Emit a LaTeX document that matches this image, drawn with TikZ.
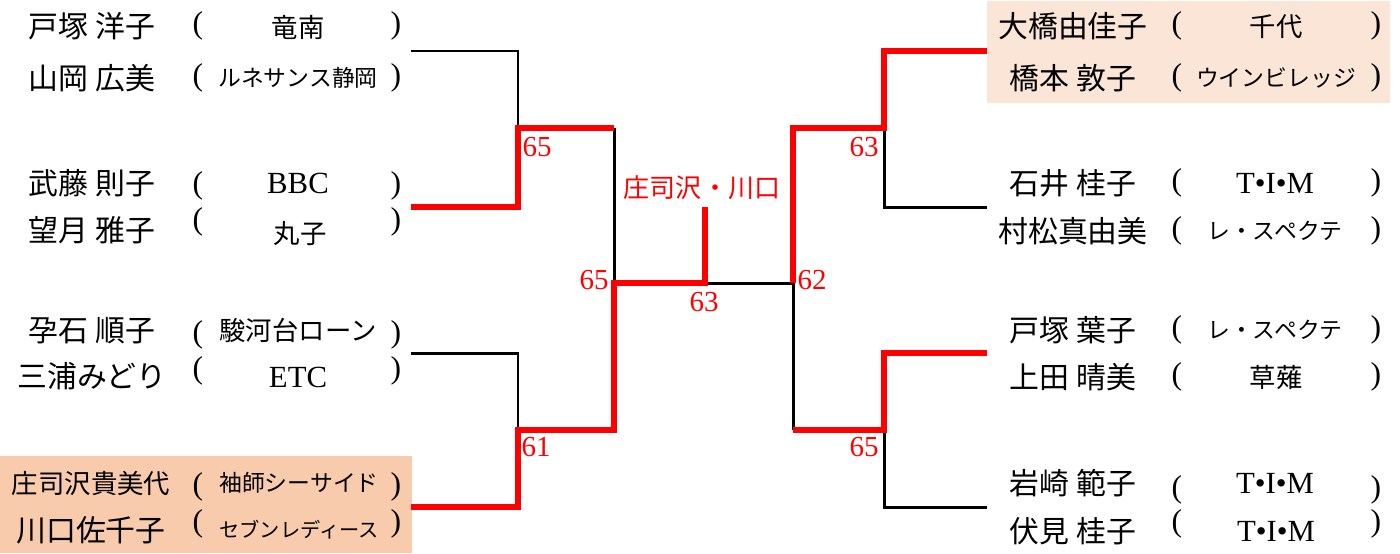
\documentclass[tikz,border=0pt]{standalone}
\usepackage{fontspec}
\setmainfont{Liberation Serif}
\newfontfamily\jp{Noto Sans CJK JP}
\usetikzlibrary{calc}
\definecolor{cWin}{HTML}{FF0000}
\definecolor{cSeedA}{HTML}{F8CBAD}
\definecolor{cSeedB}{HTML}{FBE5D6}

\begin{document}
\begin{tikzpicture}[
  x=0.2mm, y=-0.2mm,
  jtxt/.style={font=\jp\fontsize{#1}{#1}\selectfont, inner sep=0pt,
               text height={0.83*#1}, text depth={0.07*#1}},
  player/.style={jtxt=17},
  club/.style={jtxt=#1}, club/.default=15,
  eclub/.style={font=\fontsize{17.5}{17.5}\selectfont, inner sep=0pt,
                text height={0.662*17.5}, text depth=0pt},
  paren/.style={font=\fontsize{18}{18}\selectfont, inner sep=0pt,
                text height={0.676*18}, text depth={0.177*18}},
  score/.style={text=cWin, font=\fontsize{16.5}{16.5}\selectfont, inner sep=0pt,
                text height={0.676*16.5}, text depth=0pt},
  lose/.style={draw=black, line width=1.7pt},
  win/.style={draw=cWin, line width=2.9pt},
]
\useasboundingbox (0,0) rectangle (1400,553);

% seeded pairs
\fill[cSeedA] (0,456) rectangle (412,553);
\fill[cSeedB] (987,1) rectangle (1390,103);

% ====================== left half ======================================
\node[player] (p1) at (92,26) {戸塚 洋子};
\node[paren] (o1) at (198,26) {(};
\node[club] (t1) at (298,27) {竜南};
\node[paren] (c1) at (396,26) {)};
\node[player] (p2) at (92,78) {山岡 広美};
\node[paren] (o2) at (198,78) {(};
\node[club=13] (t2) at (298,78) {ルネサンス静岡};
\node[paren] (c2) at (396,78) {)};

\node[player] (p3) at (92,183) {武藤 則子};
\node[paren] (o3) at (198,186) {(};
\node[eclub] (t3) at (298,183) {BBC};
\node[paren] (c3) at (396,186) {)};
\node[player] (p4) at (92,230) {望月 雅子};
\node[paren] (o4) at (198,222) {(};
\node[club] (t4) at (300,233) {丸子};
\node[paren] (c4) at (396,222) {)};

\node[player] (p5) at (92,330) {孕石 順子};
\node[paren] (o5) at (198,335) {(};
\node[club] (t5) at (298,330) {駿河台ローン};
\node[paren] (c5) at (396,335) {)};
\node[player] (p6) at (92,376) {三浦みどり};
\node[paren] (o6) at (198,371) {(};
\node[eclub] (t6) at (298,377) {ETC};
\node[paren] (c6) at (396,371) {)};

\node[jtxt=15] (p7) at (91,483) {庄司沢貴美代};
\node[paren] (o7) at (198,487) {(};
\node[club=13] (t7) at (299,483) {袖師シーサイド};
\node[paren] (c7) at (396,487) {)};
\node[player] (p8) at (91,530) {川口佐千子};
\node[paren] (o8) at (198,524) {(};
\node[club=11.5] (t8) at (299,530) {セブンレディース};
\node[paren] (c8) at (396,524) {)};

% ====================== right half =====================================
\node[player] (p9) at (1073,26) {大橋由佳子};
\node[paren] (o9) at (1177,26) {(};
\node[club] (t9) at (1276,26) {千代};
\node[paren] (c9) at (1376,26) {)};
\node[player] (p10) at (1073,78) {橋本 敦子};
\node[paren] (o10) at (1177,78) {(};
\node[club=13] (t10) at (1276,78) {ウインビレッジ};
\node[paren] (c10) at (1376,78) {)};

\node[player] (p11) at (1073,183) {石井 桂子};
\node[paren] (o11) at (1177,183) {(};
\node[eclub] (t11) at (1275,183) {T•I•M};
\node[paren] (c11) at (1376,183) {)};
\node[player] (p12) at (1073,231) {村松真由美};
\node[paren] (o12) at (1177,231) {(};
\node[club=13] (t12) at (1275,231) {レ・スペクテ};
\node[paren] (c12) at (1376,231) {)};

\node[player] (p13) at (1073,330) {戸塚 葉子};
\node[paren] (o13) at (1177,330) {(};
\node[club=13] (t13) at (1275,330) {レ・スペクテ};
\node[paren] (c13) at (1376,330) {)};
\node[player] (p14) at (1073,377) {上田 晴美};
\node[paren] (o14) at (1177,377) {(};
\node[club] (t14) at (1276,377) {草薙};
\node[paren] (c14) at (1376,377) {)};

\node[player] (p15) at (1073,483) {岩崎 範子};
\node[paren] (o15) at (1177,490) {(};
\node[eclub] (t15) at (1275,483) {T•I•M};
\node[paren] (c15) at (1376,490) {)};
\node[player] (p16) at (1073,531) {伏見 桂子};
\node[paren] (o16) at (1177,524) {(};
\node[eclub] (t16) at (1276,531) {T•I•M};
\node[paren] (c16) at (1376,524) {)};

% ====================== bracket points =================================
\coordinate (l1) at (411,51);
\coordinate (l2) at (411,207);
\coordinate (l3) at (411,353);
\coordinate (l4) at (411,507);
\coordinate (m1) at (518,128);
\coordinate (m2) at (518,430);
\coordinate (q1) at (614,283);
\coordinate (ctr) at (705,283);
\coordinate (champ) at (705,207);
\coordinate (q2) at (793,283);
\coordinate (n1) at (884,128);
\coordinate (n2) at (884,430);
\coordinate (r1) at (987,51);
\coordinate (r2) at (987,207);
\coordinate (r3) at (987,353);
\coordinate (r4) at (987,507);

% losers
\draw[lose] (l1) -| (m1);
\draw[lose] (m1 -| q1) -- (q1);
\draw[lose] (l3) -| (m2);
\draw[lose] (ctr) -- (q2);
\draw[lose] (n1) |- (r2);
\draw[lose] (q2) -- (q2 |- n2);
\draw[lose] (n2) |- (r4);

% winners
\draw[win] (l2) -| (m1) -- (m1 -| q1);
\draw[win] (l4) -| (m2) -| (q1) -- (ctr) -- (champ);
\draw[win] (q2) |- (n1) |- (r1);
\draw[win] (q2 |- n2) -- (n2) |- (r3);

% scores
\node[score] (s1) at (537,147) {65};
\node[score] (s2) at (536,447) {61};
\node[score] (s3) at (594,280) {65};
\node[score] (s4) at (704,302) {63};
\node[score] (s5) at (812,280) {62};
\node[score] (s6) at (864,147) {63};
\node[score] (s7) at (864,447) {65};
\node[jtxt=14.8, text=cWin] (champion) at (702,188) {庄司沢・川口};

\end{tikzpicture}
\end{document}
